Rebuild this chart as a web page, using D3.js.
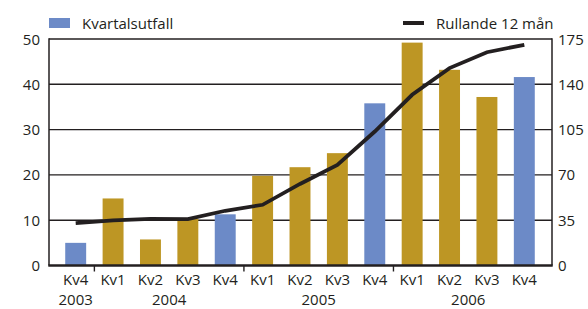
<!DOCTYPE html>
<html>
<head>
<meta charset="utf-8">
<script src="https://cdn.jsdelivr.net/npm/d3@7"></script>
<style>
  html, body { margin: 0; padding: 0; background: #fff; }
  svg { display: block; font-family: "Open Sans", sans-serif; }
</style>
</head>
<body>
<svg id="chart" width="588" height="309"></svg>
<script>
const quarters = ["Kv4","Kv1","Kv2","Kv3","Kv4","Kv1","Kv2","Kv3","Kv4","Kv1","Kv2","Kv3","Kv4"];
const years = ["2003","2004","2004","2004","2004","2005","2005","2005","2005","2006","2006","2006","2006"];
const quarterly = [5.0, 14.8, 5.75, 10.3, 11.3, 19.8, 21.7, 24.8, 35.8, 49.2, 43.2, 37.2, 41.6];
const rolling12 = [32.8, 34.8, 36.1, 35.9, 42.3, 46.9, 63.0, 77.7, 103.5, 131.9, 152.5, 164.8, 170.5];
const leftTicks = [0, 10, 20, 30, 40, 50];
const rightTicks = [0, 35, 70, 105, 140, 175];
const yearLabels = ["2003", "2004", "2005", "2006"];

const blue = "#6c8ac7";
const gold = "#bd9624";
const dark = "#231f20";

const svg = d3.select("#chart");
const L = 49, R = 552, T = 39, B = 265.5;

const keys = quarters.map((q, i) => i);
const x = d3.scaleBand().domain(keys).range([57, 543]).paddingInner(0.44).paddingOuter(0.22);
const yL = d3.scaleLinear().domain([0, 50]).range([B, T]);
const yR = d3.scaleLinear().domain([0, 175]).range([B, T]);

// gridlines
svg.append("g").selectAll("line").data(leftTicks.filter(d => d > 0)).join("line")
  .attr("x1", L).attr("x2", R)
  .attr("y1", d => yL(d)).attr("y2", d => yL(d))
  .attr("stroke", dark).attr("stroke-width", 1.4);

// bars
svg.append("g").selectAll("rect").data(quarterly).join("rect")
  .attr("x", (d, i) => x(i))
  .attr("width", x.bandwidth())
  .attr("y", d => yL(d))
  .attr("height", d => B - yL(d))
  .attr("fill", (d, i) => quarters[i] === "Kv4" ? blue : gold);

// line
const line = d3.line().x((d, i) => x(i) + x.bandwidth() / 2).y(d => yR(d));
svg.append("path").datum(rolling12)
  .attr("d", line)
  .attr("fill", "none")
  .attr("stroke", dark)
  .attr("stroke-width", 3.8)
  .attr("stroke-linejoin", "miter");

// left & right axis lines
svg.append("line").attr("x1", L).attr("x2", L).attr("y1", T - 0.7).attr("y2", B)
  .attr("stroke", dark).attr("stroke-width", 1.5);
svg.append("line").attr("x1", R).attr("x2", R).attr("y1", T - 0.7).attr("y2", B)
  .attr("stroke", dark).attr("stroke-width", 1.5);

// bottom axis
svg.append("line").attr("x1", L - 0.7).attr("x2", R + 0.7).attr("y1", B).attr("y2", B)
  .attr("stroke", dark).attr("stroke-width", 2.6);

// year separator ticks
const sepIdx = [];
for (let i = 1; i < years.length; i++) if (years[i] !== years[i - 1]) sepIdx.push(i);
svg.append("g").selectAll("line").data(sepIdx).join("line")
  .attr("x1", i => (x(i - 1) + x.bandwidth() + x(i)) / 2)
  .attr("x2", i => (x(i - 1) + x.bandwidth() + x(i)) / 2)
  .attr("y1", B).attr("y2", B + 6)
  .attr("stroke", dark).attr("stroke-width", 1.4);

// left tick labels
svg.append("g").selectAll("text").data(leftTicks).join("text")
  .attr("x", 40).attr("y", d => yL(d) + 5.5)
  .attr("text-anchor", "end")
  .attr("font-size", 15).attr("fill", dark)
  .text(d => d);

// right tick labels
svg.append("g").selectAll("text").data(rightTicks).join("text")
  .attr("x", 558).attr("y", d => yR(d) + 5.5)
  .attr("text-anchor", "start")
  .attr("font-size", 15).attr("fill", dark)
  .text(d => d);

// category labels
svg.append("g").selectAll("text").data(quarters).join("text")
  .attr("x", (d, i) => x(i) + x.bandwidth() / 2)
  .attr("y", 285)
  .attr("text-anchor", "middle")
  .attr("font-size", 15).attr("fill", dark)
  .text(d => d);

// year labels
svg.append("g").selectAll("text").data(yearLabels).join("text")
  .attr("x", yr => {
    const idx = years.map((y, i) => y === yr ? i : -1).filter(i => i >= 0);
    return (x(idx[0]) + x(idx[idx.length - 1]) + x.bandwidth()) / 2;
  })
  .attr("y", 305)
  .attr("text-anchor", "middle")
  .attr("font-size", 15).attr("fill", dark)
  .text(d => d);

// legend
svg.append("rect").attr("x", 49).attr("y", 18).attr("width", 21).attr("height", 10).attr("fill", blue);
svg.append("text").attr("x", 82).attr("y", 29).attr("font-size", 15).attr("fill", dark).text("Kvartalsutfall");
svg.append("line").attr("x1", 403).attr("x2", 424).attr("y1", 23).attr("y2", 23)
  .attr("stroke", dark).attr("stroke-width", 4);
svg.append("text").attr("x", 436).attr("y", 29).attr("font-size", 15).attr("fill", dark).text("Rullande 12 mån");
</script>
</body>
</html>
